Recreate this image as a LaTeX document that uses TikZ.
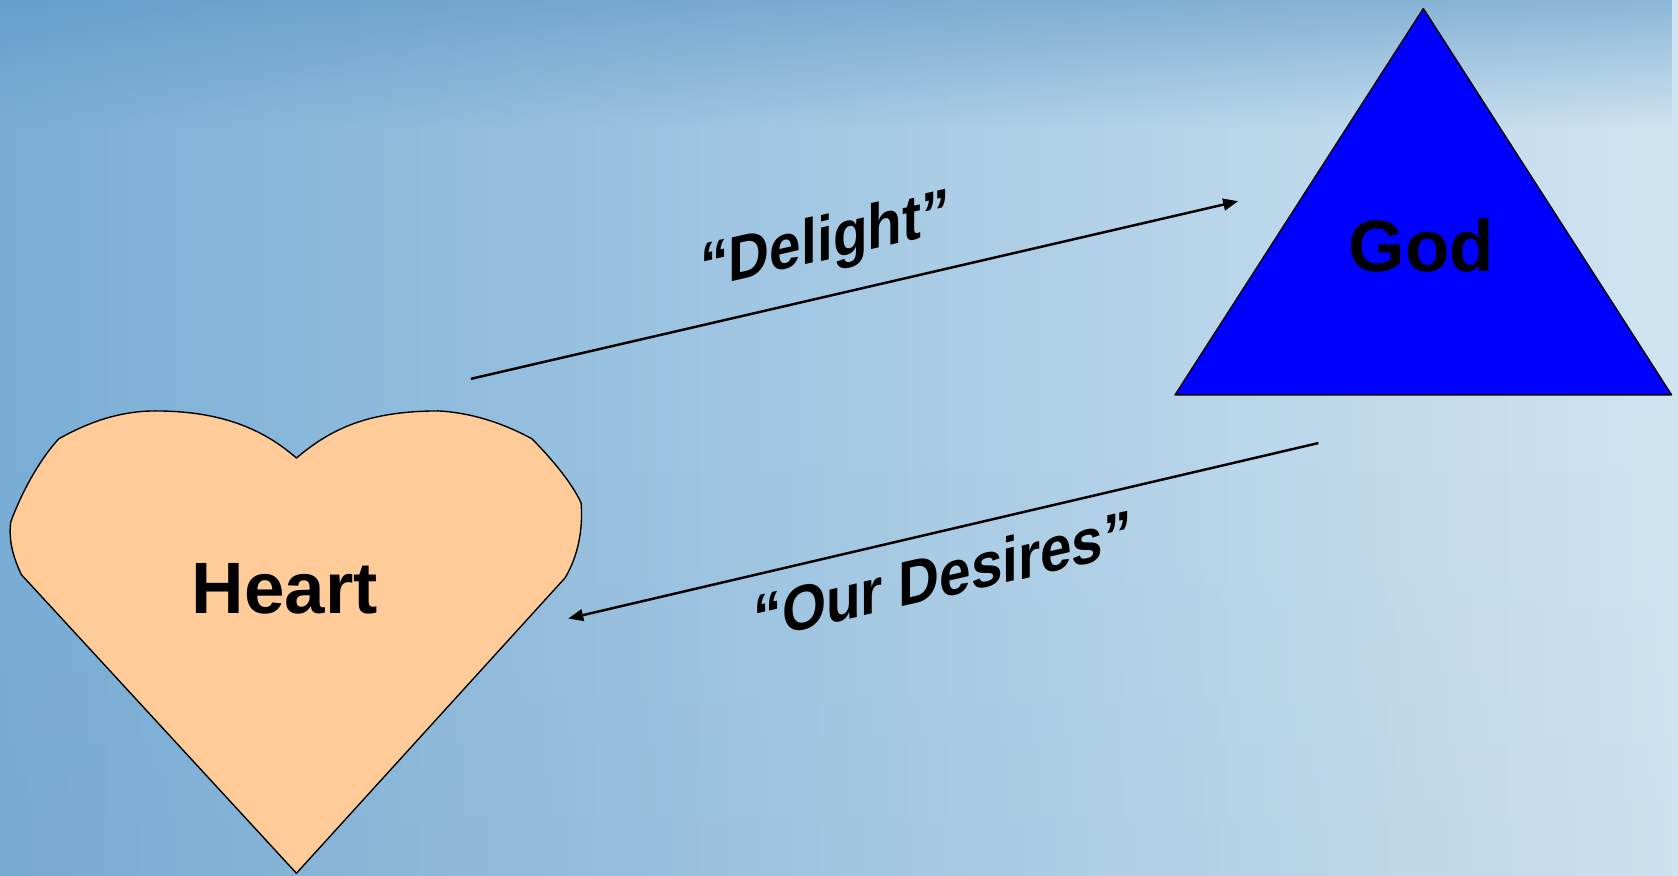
\documentclass[tikz,border=0pt]{standalone}
\usepackage{fontspec}
\setmainfont{Liberation Sans}
\usetikzlibrary{arrows.meta,fadings}
\definecolor{skyL}{RGB}{122,174,214}
\definecolor{skyR}{RGB}{208,228,241}
\definecolor{seaL}{RGB}{116,166,206}
\definecolor{seaR}{RGB}{200,222,236}
\definecolor{topband}{RGB}{88,148,196}
\definecolor{heartfill}{RGB}{255,204,153}
\definecolor{godfill}{RGB}{0,0,255}
\tikzset{
  outline/.style={draw=black, line width=1.3pt, line join=round},
  bigtext/.style={font=\bfseries\fontsize{68}{80}\selectfont, text=black},
  lbltext/.style={font=\bfseries\fontsize{53}{62}\selectfont, text=black, yslant=0.23, yscale=1.12},
  conn/.style={draw=black, line width=2.3pt, -{Triangle[length=14pt,width=11pt]}}
}
\begin{document}
\begin{tikzpicture}[x=1pt,y=-1pt]
\useasboundingbox (0,0) rectangle (1568,818);
% background
\shade[left color=skyL, right color=skyR] (0,0) rectangle (1568,818);
\fill[topband, path fading=south, fill opacity=0.75] (0,-40) rectangle (1568,120);
\shade[left color=seaL, right color=seaR, path fading=north, opacity=0.5] (0,440) rectangle (1568,818);
% heart
\path[outline, fill=heartfill]
  (277,428) .. controls (310,400) and (345,384) .. (410,384)
  .. controls (445,386) and (475,398) .. (497,410)
  .. controls (515,428) and (535,452) .. (543,470)
  .. controls (545,495) and (540,520) .. (528,540)
  -- (277,816) -- (20,537)
  .. controls (12,520) and (8,505) .. (10,488)
  .. controls (20,460) and (38,428) .. (55,410)
  .. controls (80,396) and (110,384) .. (145,384)
  .. controls (205,384) and (245,400) .. (277,428) -- cycle;
\node[bigtext] (heart) at (266,550) {Heart};
% triangle
\path[outline, fill=godfill] (1330,8) -- (1562,369) -- (1098,369) -- cycle;
\node[bigtext] (god) at (1328,229) {God};
% connectors
\coordinate (dstart) at (440,354);
\coordinate (dend) at (1157,188);
\coordinate (ostart) at (1232,414);
\coordinate (oend) at (531,578);
\draw[conn] (dstart) -- (dend);
\draw[conn] (ostart) -- (oend);
\node[lbltext] (delight) at (771,228) {“Delight”};
\node[lbltext] (desires) at (881,537) {“Our Desires”};
\end{tikzpicture}
\end{document}
